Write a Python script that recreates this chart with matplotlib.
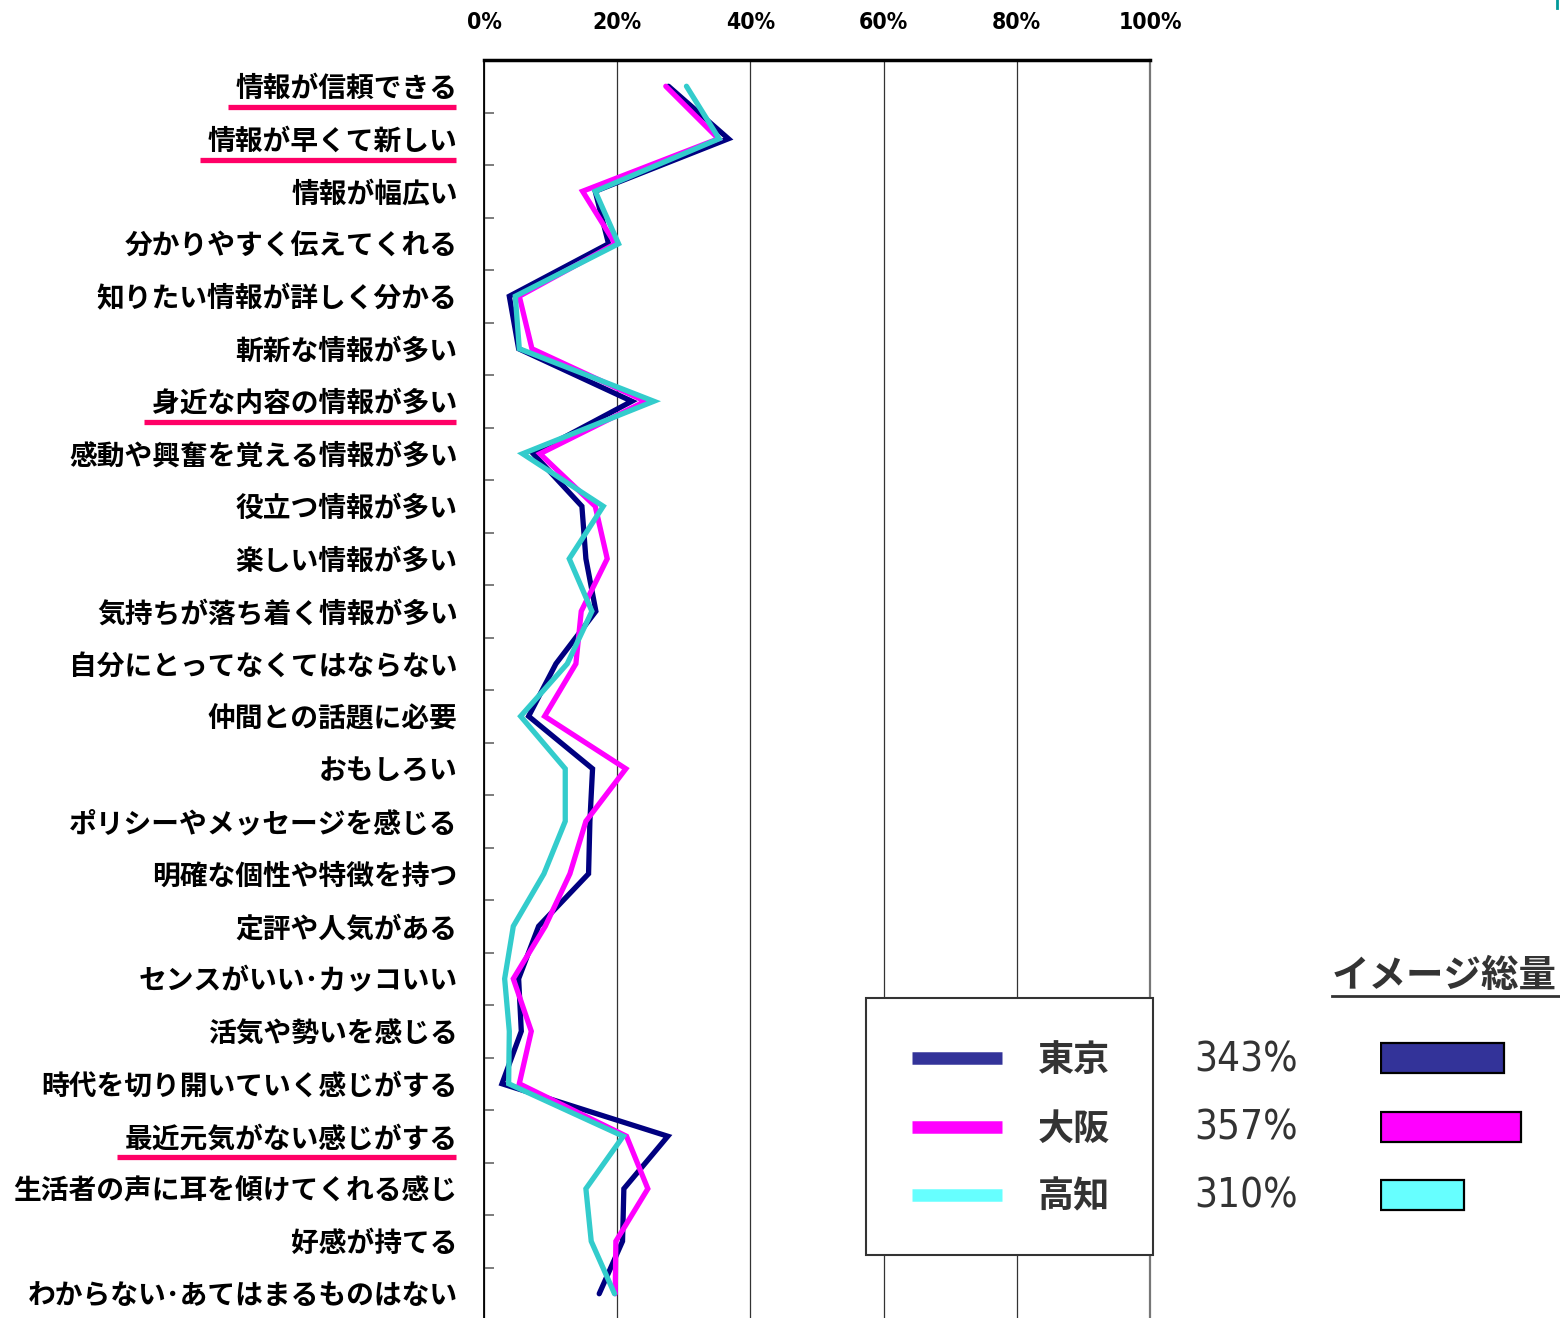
import numpy as np
import matplotlib
matplotlib.use('Agg')
import matplotlib.pyplot as plt
from matplotlib.patches import Rectangle

plt.rcParams['font.family'] = ['Noto Sans CJK JP', 'DejaVu Sans']

# data (% of respondents)
categories = [
    '情報が信頼できる', '情報が早くて新しい', '情報が幅広い', '分かりやすく伝えてくれる',
    '知りたい情報が詳しく分かる', '斬新な情報が多い', '身近な内容の情報が多い',
    '感動や興奮を覚える情報が多い', '役立つ情報が多い', '楽しい情報が多い',
    '気持ちが落ち着く情報が多い', '自分にとってなくてはならない', '仲間との話題に必要',
    'おもしろい', 'ポリシーやメッセージを感じる', '明確な個性や特徴を持つ',
    '定評や人気がある', 'センスがいい･カッコいい', '活気や勢いを感じる',
    '時代を切り開いていく感じがする', '最近元気がない感じがする',
    '生活者の声に耳を傾けてくれる感じ', '好感が持てる', 'わからない･あてはまるものはない',
]
tokyo = [27.7, 36.7, 16.7, 18.7, 3.8, 5.2, 22.2, 7.4, 14.7, 15.3, 16.8, 10.8,
         6.7, 16.3, 15.9, 15.7, 8.2, 5.2, 5.6, 2.7, 27.6, 21.0, 20.8, 17.3]
osaka = [27.3, 35.2, 14.8, 19.7, 5.3, 7.2, 24.2, 8.4, 16.7, 18.5, 14.6, 13.8,
         9.1, 21.3, 15.3, 12.9, 9.2, 4.4, 7.1, 5.3, 21.4, 24.6, 19.8, 19.7]
kochi = [30.4, 35.3, 16.7, 20.2, 4.7, 5.3, 25.5, 5.8, 17.9, 12.8, 16.2, 12.5,
         5.5, 12.2, 12.2, 9.0, 4.4, 3.1, 3.8, 3.7, 20.9, 15.3, 16.1, 19.6]
underlined = ['情報が信頼できる', '情報が早くて新しい', '身近な内容の情報が多い', '最近元気がない感じがする']

cities = ['東京', '大阪', '高知']
totals = [343, 357, 310]
line_colors = ['#000080', '#FF00FF', '#33CCCC']
legend_colors = ['#333399', '#FF00FF', '#66FFFF']
xticks = [0, 20, 40, 60, 80, 100]

W, H = 1560, 1318
fig = plt.figure(figsize=(W / 100, H / 100), dpi=100)
ax = fig.add_axes([484 / W, 1 - 1320 / H, 666 / W, 1260 / H])

y = np.arange(len(categories))
for vals, c in zip([tokyo, osaka, kochi], line_colors):
    ax.plot(vals, y, color=c, lw=3.8, solid_joinstyle='miter', solid_capstyle='round', zorder=3)

ax.set_xlim(0, 100)
ax.set_ylim(len(categories) - 0.5, -0.5)
ax.set_xticks(xticks)
ax.set_xticklabels([f'{v}%' for v in xticks], fontfamily='DejaVu Sans', fontstretch='condensed',
                   fontweight='bold', fontsize=16.5)
ax.xaxis.tick_top()
ax.tick_params(axis='x', length=0, pad=19)
ax.set_yticks(y)
ax.set_yticklabels(categories, fontsize=20, fontweight='bold')
ax.tick_params(axis='y', length=0, pad=19)
ax.set_yticks(y[:-1] + 0.5, minor=True)
ax.tick_params(axis='y', which='minor', direction='in', length=7, width=1.2, color='#666666')
ax.grid(axis='x', color='#333333', lw=0.9)
ax.set_axisbelow(True)
ax.spines['top'].set_linewidth(2.5)
ax.spines['left'].set_linewidth(1.3)
ax.spines['right'].set_color('#777777')
ax.spines['right'].set_linewidth(1.6)
ax.spines['bottom'].set_visible(False)

# overlay in pixel coordinates for legend, totals and underlines
ov = fig.add_axes([0, 0, 1, 1], zorder=5)
ov.set_xlim(0, W)
ov.set_ylim(H, 0)
ov.axis('off')
ov.patch.set_alpha(0)

fig.canvas.draw()
renderer = fig.canvas.get_renderer()
for lab in ax.get_yticklabels():
    if lab.get_text() in underlined:
        bb = lab.get_window_extent(renderer)
        yc = H - (bb.y0 + bb.y1) / 2
        ov.plot([bb.x0 - 8, bb.x1 - 2], [yc + 18, yc + 18], color='#FF0066', lw=3.8,
                solid_capstyle='butt')

ov.add_patch(Rectangle((866, 998), 287, 257, facecolor='white', edgecolor='#333333', lw=1.5))
rows_y = [1058, 1127, 1195]
for city, total, lc, yy in zip(cities, totals, legend_colors, rows_y):
    ov.plot([912, 1002], [yy, yy], color=lc, lw=9, solid_capstyle='butt')
    ov.text(1038, yy + 2, city, fontsize=26, fontweight='bold', color='#333333', va='center')
    ov.text(1194, yy + 2, f'{total}%', fontsize=29, color='#333333', va='center',
            fontfamily='DejaVu Sans', fontstretch='condensed')

ov.text(1332, 975, 'イメージ総量', fontsize=27, fontweight='bold', color='#333333', va='center')
ov.plot([1332, 1560], [996, 996], color='#333333', lw=2)

bx = fig.add_axes([1380 / W, 1 - 1215 / H, 180 / W, 180 / H], zorder=6)
base = 240
bx.barh(rows_y, np.array(totals) - base, left=base, height=30, color=legend_colors,
        edgecolor='black', lw=1.6)
bx.set_xlim(base - 0.5, base + 180 / 1.2)
bx.set_ylim(1215, 1035)
bx.axis('off')
bx.patch.set_alpha(0)

ov.plot([1557, 1557], [0, 8], color='#009999', lw=2)

fig.savefig('out.png', dpi=100)
